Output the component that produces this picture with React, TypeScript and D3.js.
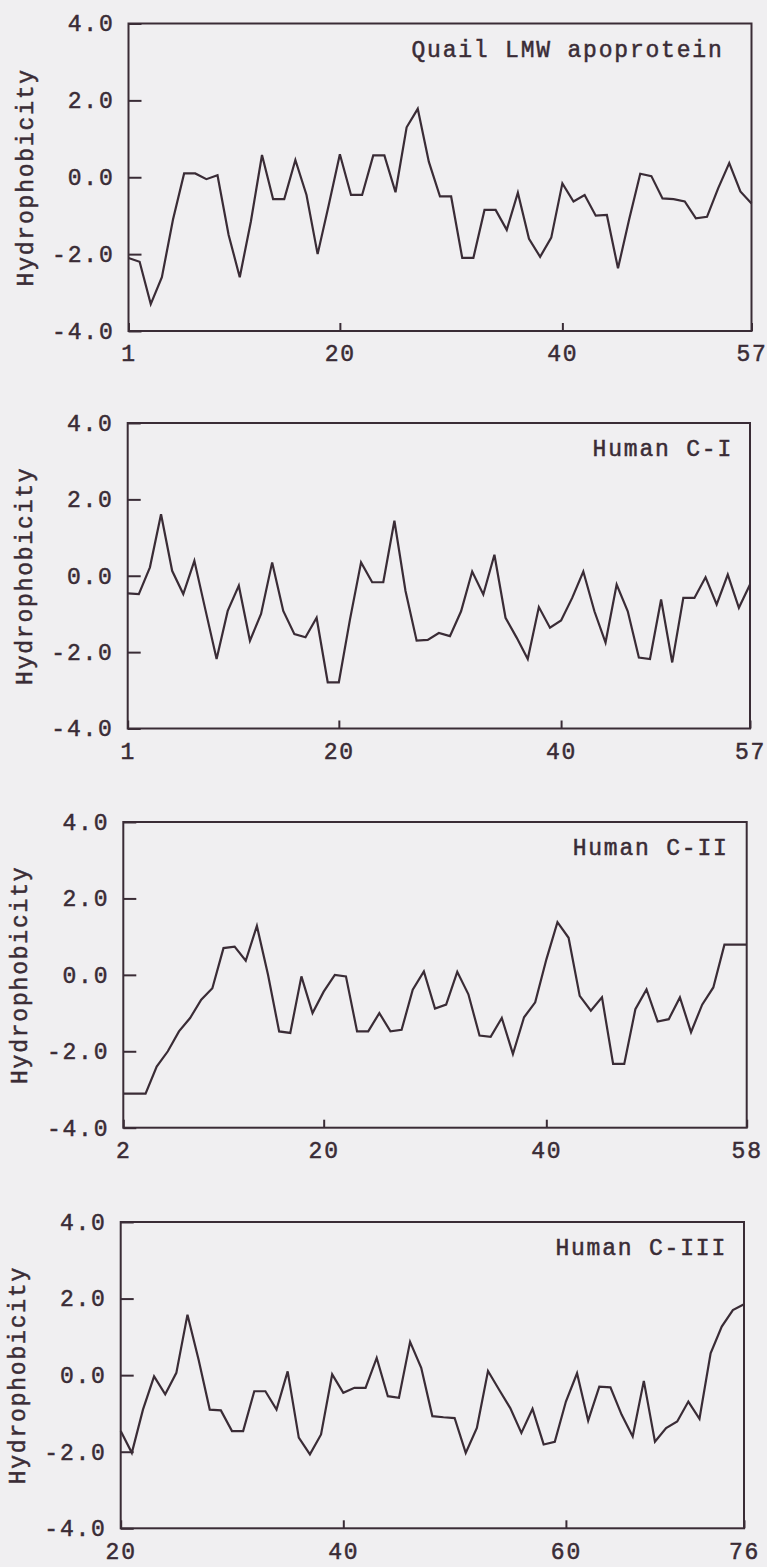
import React, { useRef, useEffect } from 'react';
import * as d3 from 'd3';

// hydrophobicity profiles, one value per residue
const quailLMW = [-2.1, -2.2, -3.3, -2.6, -1.1, 0.1, 0.1, -0.05, 0.05, -1.5, -2.6, -1.15, 0.58, -0.57, -0.57, 0.45, -0.46, -2.0, -0.72, 0.6, -0.46, -0.46, 0.57, 0.57, -0.39, 1.3, 1.78, 0.4, -0.5, -0.5, -2.1, -2.1, -0.85, -0.85, -1.37, -0.4, -1.6, -2.07, -1.57, -0.16, -0.63, -0.46, -1.0, -0.98, -2.37, -1.1, 0.09, 0.03, -0.55, -0.57, -0.63, -1.07, -1.03, -0.29, 0.37, -0.37, -0.68];
const humanC1 = [-0.46, -0.48, 0.22, 1.61, 0.13, -0.48, 0.39, -0.9, -2.18, -0.92, -0.26, -1.7, -1.0, 0.35, -0.92, -1.53, -1.61, -1.1, -2.79, -2.79, -1.15, 0.35, -0.17, -0.17, 1.44, -0.4, -1.7, -1.68, -1.5, -1.58, -0.93, 0.11, -0.49, 0.55, -1.1, -1.62, -2.18, -0.82, -1.36, -1.17, -0.58, 0.11, -0.93, -1.75, -0.23, -0.93, -2.14, -2.18, -0.62, -2.27, -0.58, -0.58, -0.04, -0.75, 0.03, -0.84, -0.23];
const humanC2 = [-3.11, -3.11, -3.11, -2.4, -2.0, -1.48, -1.13, -0.65, -0.35, 0.7, 0.74, 0.37, 1.28, 0.0, -1.48, -1.52, -0.04, -1.0, -0.44, 0.0, -0.04, -1.48, -1.48, -1.0, -1.48, -1.44, -0.39, 0.09, -0.88, -0.78, 0.08, -0.51, -1.59, -1.62, -1.13, -2.07, -1.11, -0.72, 0.4, 1.38, 0.97, -0.55, -0.94, -0.59, -2.33, -2.33, -0.9, -0.38, -1.22, -1.16, -0.59, -1.5, -0.78, -0.33, 0.79, 0.79, 0.79];
const humanC3 = [-1.46, -2.03, -0.9, -0.03, -0.5, 0.06, 1.58, 0.4, -0.9, -0.92, -1.46, -1.46, -0.42, -0.42, -0.9, 0.1, -1.63, -2.07, -1.55, 0.02, -0.46, -0.33, -0.33, 0.45, -0.55, -0.59, 0.87, 0.19, -1.07, -1.1, -1.12, -2.03, -1.38, 0.11, -0.38, -0.86, -1.51, -0.88, -1.81, -1.74, -0.69, 0.05, -1.19, -0.3, -0.32, -1.03, -1.6, -0.15, -1.74, -1.38, -1.21, -0.69, -1.14, 0.57, 1.27, 1.7, 1.85];

const panelNames = ['Quail LMW apoprotein', 'Human C-I', 'Human C-II', 'Human C-III'];
const firstResidue = [1, 1, 2, 20];
const xTickValues = [[1, 20, 40, 57], [1, 20, 40, 57], [2, 20, 40, 58], [20, 40, 60, 76]];
const yTickValues = [-4, -2, 0, 2, 4];
const yLabel = 'Hydrophobicity';

const series = [quailLMW, humanC1, humanC2, humanC3];

// frame of each panel on the page (the scan drifts left going down)
const frames = [
  { left: 128.5, top: 23.5, right: 751.5, bottom: 331, titleInset: 28 },
  { left: 127.7, top: 423, right: 750, bottom: 728.5, titleInset: 17 },
  { left: 123.3, top: 822, right: 746.7, bottom: 1127.7, titleInset: 18 },
  { left: 120.7, top: 1222, right: 744, bottom: 1528.3, titleInset: 17 },
];

const WIDTH = 767;
const HEIGHT = 1567;
const INK = '#3a2c36';
const PAPER = '#f0eff1';
const FONT = '"Liberation Mono", "Courier New", monospace';

const App = () => {
  const svgRef = useRef<SVGSVGElement>(null);

  useEffect(() => {
    if (!svgRef.current) return;
    const svg = d3.select(svgRef.current);
    svg.selectAll('*').remove();

    svg.append('rect')
      .attr('width', WIDTH)
      .attr('height', HEIGHT)
      .attr('fill', PAPER);

    series.forEach((values, p) => {
      const f = frames[p];
      const start = firstResidue[p];
      const residues = values.map((_, i) => start + i);

      const x = d3.scaleLinear()
        .domain([start, start + values.length - 1])
        .range([f.left, f.right]);
      const y = d3.scaleLinear()
        .domain([-4, 4])
        .range([f.bottom, f.top]);

      const g = svg.append('g');

      // y axis, ticks pointing inward
      const yAxis = g.append('g')
        .attr('transform', `translate(${f.left},0)`)
        .call(d3.axisLeft(y).tickValues(yTickValues).tickSize(-13).tickPadding(14)
          .tickFormat(d => (+d).toFixed(1)));
      yAxis.select('.domain').remove();

      // x axis
      const xAxis = g.append('g')
        .attr('transform', `translate(0,${f.bottom})`)
        .call(d3.axisBottom(x).tickValues(xTickValues[p]).tickSize(-8).tickPadding(14)
          .tickFormat(d => String(d)));
      xAxis.select('.domain').remove();

      [yAxis, xAxis].forEach(a => {
        a.attr('font-family', FONT).attr('font-size', 23);
        a.selectAll('line').attr('stroke', INK).attr('stroke-width', 2);
        a.selectAll('text')
          .attr('fill', INK)
          .attr('stroke', INK)
          .attr('stroke-width', 0.5)
          .attr('letter-spacing', 1.8);
      });

      // frame
      g.append('rect')
        .attr('x', f.left)
        .attr('y', f.top)
        .attr('width', f.right - f.left)
        .attr('height', f.bottom - f.top)
        .attr('fill', 'none')
        .attr('stroke', INK)
        .attr('stroke-width', 2);

      // profile line
      const line = d3.line<number>()
        .x((_, i) => x(residues[i]))
        .y(d => y(d));
      g.append('path')
        .datum(values)
        .attr('d', line)
        .attr('fill', 'none')
        .attr('stroke', INK)
        .attr('stroke-width', 2.2)
        .attr('stroke-linejoin', 'miter');

      // panel title
      g.append('text')
        .attr('x', f.right - f.titleInset)
        .attr('y', f.top + 33)
        .attr('text-anchor', 'end')
        .attr('font-family', FONT)
        .attr('font-size', 23)
        .attr('letter-spacing', 1.8)
        .attr('fill', INK)
        .attr('stroke', INK)
        .attr('stroke-width', 0.5)
        .text(panelNames[p]);

      // y axis title
      const midY = (f.top + f.bottom) / 2;
      g.append('text')
        .attr('transform', `translate(${f.left - 96},${midY}) rotate(-90)`)
        .attr('text-anchor', 'middle')
        .attr('font-family', FONT)
        .attr('font-size', 23)
        .attr('letter-spacing', 1.8)
        .attr('fill', INK)
        .attr('stroke', INK)
        .attr('stroke-width', 0.5)
        .text(yLabel);
    });
  }, []);

  return (
    <svg
      ref={svgRef}
      width={WIDTH}
      height={HEIGHT}
      style={{ position: 'absolute', left: 0, top: 0, display: 'block' }}
    />
  );
};

export default App;
